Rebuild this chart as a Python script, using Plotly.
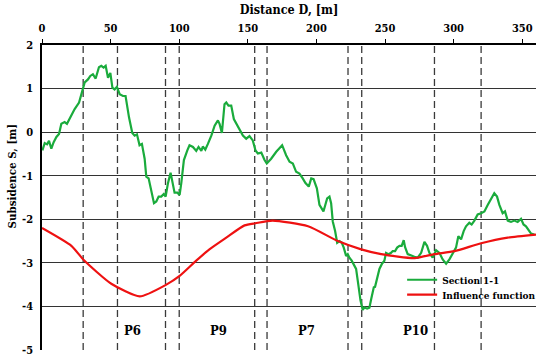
import plotly.graph_objects as go

# Section 1-1 measured subsidence
sec_x = [0.3, 2, 3.7, 5.1, 6.8, 8.5, 10.5, 12.4, 14.1, 16.5, 18.2, 20.7, 23.8, 27, 29.4, 31.1, 33.5, 35.2, 37.1,
         39.1, 41.5, 43.2, 44.9, 46.4, 48.1, 49.8, 51.3, 52.9, 54.6, 56.6, 59, 60.9, 63.4, 65.8, 67.5, 69.2,
         71.1, 72.8, 74.8, 76, 77.7, 79.7, 81.6, 83.3, 85, 86.9, 88.8, 90.1, 91.8, 93.7, 95.4, 96.6, 98.6,
         100.3, 101.5, 103.4, 105.9, 107.5, 110, 112.4, 114.1, 116.1, 117.2, 119, 120.9, 123.4, 125.8, 128.2,
         129.4, 131.1, 133, 134.3, 135.9, 137.9, 139.8, 143.9, 146.4, 148.8, 151.2, 153.6, 155.6, 157.3,
         159.8, 162.2, 163.8, 167, 170.7, 175, 177.9, 180.4, 182.8, 185.2, 187.6, 190, 192, 194.4, 196.2,
         197.9, 200.3, 202.2, 205.1, 207.8, 209.5, 210.7, 211.9, 213.6, 215.1, 216.8, 218.5, 219.9, 221.6,
         222.8, 224, 225.7, 227.7, 228.9, 230.1, 232.1, 233.7, 235, 236.9, 238.6, 239.9, 241.8, 242.7,
         244.2, 245.9, 247.6, 249.5, 250.7, 252.5, 254.4, 255.6, 257.3, 258.8, 260.5, 262.1, 263.6, 264.6,
         266.5, 269, 271.4, 273.8, 276.3, 278.7, 280.6, 282.3, 284.7, 287.2, 289.6, 292, 294.5, 296.9,
         299.3, 301.7, 303.4, 305.4, 307.3, 309, 311.4, 313.1, 315.1, 317.5, 320, 322.4, 324.8, 327.2,
         329.6, 331.6, 333.3, 335.7, 337.4, 339.4, 341.8, 344.2, 346.6, 349.1, 350.9, 352.7, 354.4, 356.4,
         358.8]
sec_s = [-0.42, -0.25, -0.28, -0.2, -0.38, -0.23, -0.11, -0.04, 0.19, 0.23, 0.19, 0.34, 0.53, 0.68, 0.95, 1.14,
         1.21, 1.29, 1.33, 1.23, 1.49, 1.52, 1.48, 1.52, 1.25, 1.36, 1.02, 0.98, 1.04, 0.87, 0.83, 0.83, 0.34,
         -0.02, -0.08, -0.05, -0.3, -0.27, -0.61, -1.02, -1.06, -1.33, -1.63, -1.59, -1.48, -1.48, -1.42,
         -1.48, -1.17, -0.93, -1.17, -1.39, -1.39, -1.44, -1.17, -0.64, -0.42, -0.3, -0.34, -0.43, -0.34,
         -0.43, -0.33, -0.4, -0.27, -0.08, 0.15, 0.27, 0.19, -0.02, 0.64, 0.68, 0.61, 0.61, 0.3, 0.04, -0.08,
         -0.15, -0.09, -0.19, -0.42, -0.49, -0.47, -0.64, -0.72, -0.61, -0.45, -0.3, -0.53, -0.68, -0.72,
         -0.91, -0.95, -1.06, -1.17, -1.25, -1.06, -1.08, -1.29, -1.67, -1.82, -1.52, -1.48, -1.63, -2.05,
         -2.27, -2.54, -2.5, -2.54, -2.65, -2.84, -2.8, -2.88, -2.95, -3.07, -3.14, -3.41, -3.86, -4.08,
         -4.02, -4.05, -4.03, -3.83, -3.56, -3.55, -3.37, -3.14, -3.03, -2.95, -2.77, -2.8, -2.77, -2.73,
         -2.73, -2.65, -2.61, -2.61, -2.48, -2.64, -2.8, -2.84, -2.86, -2.88, -2.77, -2.52, -2.61, -2.77,
         -2.88, -2.71, -2.77, -2.92, -3.02, -2.92, -2.8, -2.65, -2.39, -2.46, -2.27, -2.16, -2.08, -2.12,
         -2.03, -1.89, -1.86, -1.82, -1.67, -1.52, -1.4, -1.48, -1.67, -1.86, -1.82, -2.03, -2.06, -2.03,
         -2.06, -1.99, -2.12, -2.16, -2.23, -2.33, -2.35]

# Influence function
inf_x = [0, 21.4, 30.6, 50.5, 71.2, 90.6, 100.3, 112.4, 122, 134.3, 147.6, 155.6, 168, 193.9, 215.6, 232.6,
         247.2, 271.5, 286, 300.6, 320, 339.4, 360]
inf_s = [-2.2, -2.61, -2.94, -3.48, -3.77, -3.5, -3.3, -2.95, -2.69, -2.42, -2.14, -2.09, -2.03, -2.16, -2.5,
         -2.69, -2.8, -2.89, -2.8, -2.73, -2.55, -2.42, -2.35]

# Panel boundaries and labels
boundaries = [30, 55, 90, 100, 155, 164, 223, 233, 286, 320]
panel_names = ["P6", "P9", "P7", "P10"]
panel_x = [66, 128.5, 193, 272.5]
panel_y = -4.55

x_ticks = [0, 50, 100, 150, 200, 250, 300, 350]
y_ticks = [2, 1, 0, -1, -2, -3, -4, -5]
y_ticktext = [str(v) for v in y_ticks]

FONT = "DejaVu Serif Condensed, DejaVu Serif"

fig = go.Figure()
for b in boundaries:
    fig.add_shape(type="line", xref="x", yref="y", x0=b, x1=b, y0=-5, y1=2,
                  line=dict(color="#3a3a3a", width=1.3, dash="7px,4px"), layer="below")

fig.add_trace(go.Scatter(x=sec_x, y=sec_s, mode="lines", name="<b>Section 1-1</b>",
                         line=dict(color="#1aab3c", width=2.2), legend="legend"))
fig.add_trace(go.Scatter(x=inf_x, y=inf_s, mode="lines", name="<b>Influence function</b>",
                         line=dict(color="#ee1111", width=2.2, shape="spline", smoothing=0.6),
                         legend="legend2"))

for name, px in zip(panel_names, panel_x):
    fig.add_annotation(x=px, y=panel_y, xref="x", yref="y", text="<b>%s</b>" % name, showarrow=False,
                       font=dict(family=FONT, size=13, color="black"))

fig.add_annotation(xref="paper", yref="y", x=0, y=-1.02, xshift=-30, xanchor="center", yanchor="middle",
                   text="<b>Subsidence S, [m]</b>",
                   textangle=-90, showarrow=False, font=dict(family=FONT, size=11.5, color="black"))

legend_common = dict(xanchor="left", yanchor="middle", bgcolor="rgba(0,0,0,0)",
                     font=dict(family=FONT, size=10, color="black"))

fig.update_layout(
    width=550, height=359,
    margin=dict(l=42, r=13, t=42, b=9),
    paper_bgcolor="white", plot_bgcolor="white",
    font=dict(family=FONT, color="black"),
    showlegend=True,
    legend=dict(x=0.729, y=0.2303, **legend_common),
    legend2=dict(x=0.729, y=0.1816, **legend_common),
    xaxis=dict(range=[0, 360], side="top", tickvals=x_ticks,
               ticktext=["<b>%d</b>" % v for v in x_ticks],
               tickfont=dict(family=FONT, size=11, color="black"),
               ticks="outside", ticklen=4, tickcolor="black", tickwidth=1.3,
               showline=True, linecolor="black", linewidth=1.5, mirror=False,
               showgrid=False, zeroline=False, ticklabelstandoff=3,
               title=dict(text="<b>Distance D, [m]</b>", font=dict(family=FONT, size=12.5, color="black"),
                          standoff=4)),
    yaxis=dict(range=[-5, 2], tickvals=y_ticks, ticktext=["<b>%s</b>" % t for t in y_ticktext],
               tickfont=dict(family=FONT, size=11, color="black"), automargin=False,
               ticks="outside", ticklen=5, tickcolor="rgba(0,0,0,0)",
               showline=True, linecolor="black", linewidth=1.5,
               showgrid=True, gridcolor="#333333", gridwidth=1, zeroline=False),
)

fig.write_html("out.html", config={"displayModeBar": False},
               post_script="document.body.style.margin='0';")
